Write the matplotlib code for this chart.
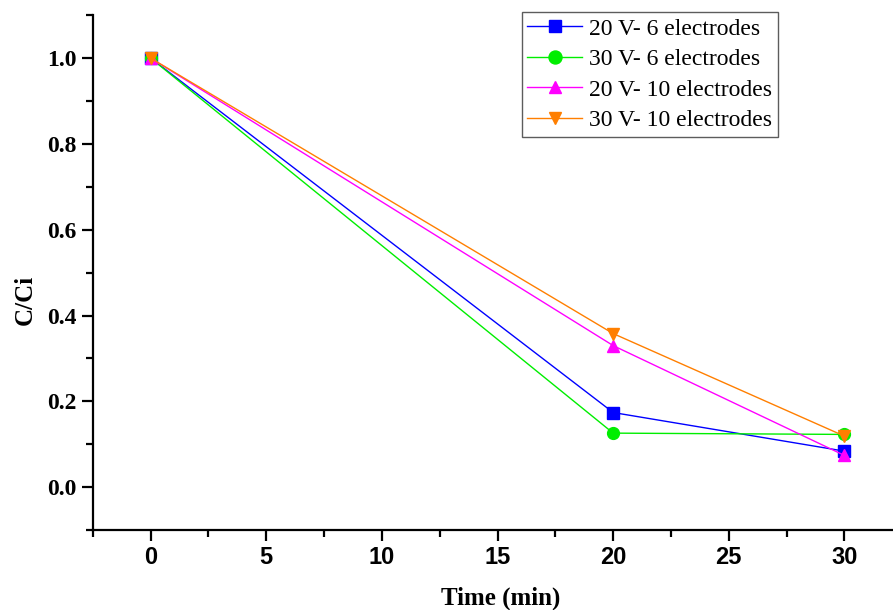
import matplotlib
matplotlib.use("Agg")
import matplotlib.pyplot as plt
from matplotlib.ticker import MultipleLocator

time_min = [0, 20, 30]
v20_e6 = [1.0, 0.174, 0.084]
v30_e6 = [1.0, 0.126, 0.123]
v20_e10 = [1.0, 0.330, 0.074]
v30_e10 = [1.0, 0.358, 0.119]

series = [
    ("20 V- 6 electrodes", v20_e6, "#0000ff", "s"),
    ("30 V- 6 electrodes", v30_e6, "#00ee00", "o"),
    ("20 V- 10 electrodes", v20_e10, "#ff00ff", "^"),
    ("30 V- 10 electrodes", v30_e10, "#ff7f00", "v"),
]

serif = "Liberation Serif"
sans = "Liberation Sans"

fig = plt.figure(figsize=(8.93, 6.10), dpi=100)
ax = fig.add_axes([0.104, 0.131, 0.896, 0.844])

for label, vals, col, mk in series:
    ax.plot(time_min, vals, color=col, marker=mk, markersize=8.5, lw=1.0,
            label=label, clip_on=False)

ax.set_xlim(-2.5, 32.1)
ax.set_ylim(-0.1, 1.1)
ax.xaxis.set_major_locator(MultipleLocator(5))
ax.xaxis.set_minor_locator(MultipleLocator(2.5))
ax.yaxis.set_minor_locator(MultipleLocator(0.1))

for s in ["top", "right"]:
    ax.spines[s].set_visible(False)
for s in ["left", "bottom"]:
    ax.spines[s].set_linewidth(1.6)

ax.tick_params(which="major", direction="out", length=8, width=1.6)
ax.tick_params(which="minor", direction="out", length=5, width=1.6)

ax.set_xticks([0, 5, 10, 15, 20, 25, 30])
ax.set_xticklabels(["0", "5", "10", "15", "20", "25", "30"],
                   fontfamily=sans, fontweight="bold", fontsize=17)
ax.set_yticks([0.0, 0.2, 0.4, 0.6, 0.8, 1.0])
ax.set_yticklabels(["0.0", "0.2", "0.4", "0.6", "0.8", "1.0"],
                   fontfamily=serif, fontweight="bold", fontsize=17)

ax.set_xlabel("Time (min)", fontfamily=serif, fontweight="bold", fontsize=18)
ax.xaxis.set_label_coords(0.51, -0.11)
ax.set_ylabel("C/Ci", fontfamily=serif, fontweight="bold", fontsize=18)
ax.yaxis.set_label_coords(-0.07, 0.447)

leg = ax.legend(loc="upper right", bbox_to_anchor=(0.856, 1.006),
                prop={"family": serif, "size": 17}, frameon=True, fancybox=False,
                borderpad=0.25, labelspacing=0.38, handlelength=2.3, handletextpad=0.3,
                borderaxespad=0.0, markerscale=1.1)
leg.get_frame().set_edgecolor("#333333")
leg.get_frame().set_linewidth(1.0)

fig.savefig("out.png", dpi=100)
